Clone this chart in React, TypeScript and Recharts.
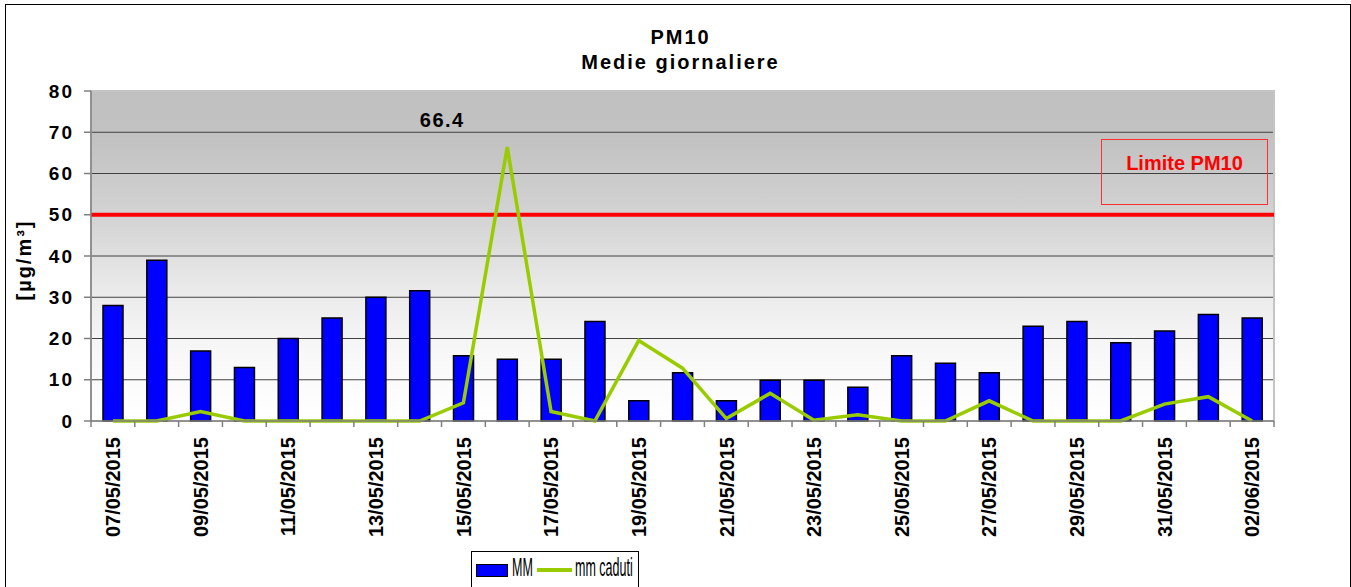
import React from 'react';
import {
  ComposedChart,
  Bar,
  Line,
  XAxis,
  YAxis,
  CartesianGrid,
  ReferenceLine,
  ReferenceArea,
  LabelList,
} from 'recharts';

const dates = [
  '07/05/2015', '08/05/2015', '09/05/2015', '10/05/2015', '11/05/2015', '12/05/2015',
  '13/05/2015', '14/05/2015', '15/05/2015', '16/05/2015', '17/05/2015', '18/05/2015',
  '19/05/2015', '20/05/2015', '21/05/2015', '22/05/2015', '23/05/2015', '24/05/2015',
  '25/05/2015', '26/05/2015', '27/05/2015', '28/05/2015', '29/05/2015', '30/05/2015',
  '31/05/2015', '01/06/2015', '02/06/2015',
];

// PM10 daily means [µg/m³]
const mm = [
  28, 39, 17, 13, 20, 25, 30, 31.6, 15.8, 15, 15, 24.1, 4.9, 11.7, 4.9, 9.9, 9.9, 8.2,
  15.8, 14, 11.7, 23, 24.1, 19, 21.8, 25.8, 25,
];

// rainfall [mm]
const mmCaduti = [
  0, 0, 2.3, 0, 0, 0, 0, 0, 4.4, 66.4, 2.3, 0, 19.5, 12.8, 0.6, 6.7, 0.2, 1.5,
  0, 0, 4.9, 0, 0, 0, 4.1, 5.9, 0,
];

const yTicks = [0, 10, 20, 30, 40, 50, 60, 70, 80];
const LIMIT = 50;

const W = 1351;
const H = 587;
const PLOT_LEFT = 91;
const PLOT_RIGHT = 1274;
const PLOT_W = PLOT_RIGHT - PLOT_LEFT;
const FONT = '"Liberation Sans", Arial, Helvetica, sans-serif';

const data = dates.map((d, i) => ({ date: d, mm: mm[i], caduti: mmCaduti[i] }));
const peak = Math.max(...mmCaduti);

const DateTick = (props: any) => {
  const { x, y, payload, index } = props;
  const band = PLOT_W / dates.length;
  return (
    <g>
      <line x1={x - band / 2} y1={y} x2={x - band / 2} y2={y + 6} stroke="#808080" strokeWidth={1.5} />
      {index === dates.length - 1 && (
        <line x1={x + band / 2} y1={y} x2={x + band / 2} y2={y + 6} stroke="#808080" strokeWidth={1.5} />
      )}
      {index % 2 === 0 && (
        <text
          x={x}
          y={y + 16}
          dy="0.36em"
          transform={`rotate(-90, ${x}, ${y + 16})`}
          textAnchor="end"
          fontFamily={FONT}
          fontWeight="bold"
          fontSize={20}
          fill="#000"
        >
          {payload.value}
        </text>
      )}
    </g>
  );
};

const PeakLabel = (props: any) => {
  const { x, y, value } = props;
  if (value !== peak) return null;
  return (
    <text
      x={x - 65}
      y={y - 20}
      textAnchor="middle"
      fontFamily={FONT}
      fontWeight="bold"
      fontSize={20}
      letterSpacing={1.5}
      fill="#000"
    >
      {value}
    </text>
  );
};

const App = () => {
  return (
    <div
      style={{
        position: 'absolute',
        left: 0,
        top: 0,
        width: W,
        height: H,
        background: '#fff',
        overflow: 'hidden',
        fontFamily: FONT,
      }}
    >
      <div
        style={{
          position: 'absolute',
          left: 5,
          top: 4,
          width: 1344,
          height: 620,
          border: '1.5px solid #000',
        }}
      />
      <div style={{ position: 'absolute', left: 0, top: 0 }}>
        <ComposedChart
          width={W}
          height={H}
          data={data}
          margin={{ top: 91, right: W - PLOT_RIGHT, bottom: 46, left: 21 }}
          barCategoryGap={0}
        >
          <defs>
            <linearGradient id="plotBg" x1="0" y1="0" x2="0" y2="1">
              <stop offset="0" stopColor="#c0c0c0" />
              <stop offset="0.15" stopColor="#c2c2c2" />
              <stop offset="0.4" stopColor="#d5d5d5" />
              <stop offset="0.6" stopColor="#eaeaea" />
              <stop offset="0.8" stopColor="#f8f8f8" />
              <stop offset="1" stopColor="#ffffff" />
            </linearGradient>
          </defs>
          <CartesianGrid
            vertical={false}
            horizontalValues={[10, 20, 30, 40, 50, 60, 70]}
            stroke="#404040"
            strokeWidth={1}
            fill="url(#plotBg)"
            fillOpacity={1}
          />
          <ReferenceArea y1={0} y2={80} fill="none" stroke="#c4c4c4" strokeWidth={2} />
          <XAxis
            dataKey="date"
            interval={0}
            height={120}
            tickSize={0}
            tickMargin={0}
            tickLine={false}
            tick={<DateTick />}
            axisLine={{ stroke: '#808080', strokeWidth: 1.5 }}
          />
          <YAxis
            width={70}
            domain={[0, 80]}
            ticks={yTicks}
            interval={0}
            tickSize={7}
            tickMargin={10}
            tickLine={{ stroke: '#808080', strokeWidth: 1.5 }}
            axisLine={{ stroke: '#808080', strokeWidth: 1.5 }}
            tick={{ fill: '#000', fontSize: 19, fontWeight: 'bold', fontFamily: FONT, letterSpacing: 2 }}
            label={{
              value: '[µg/m³]',
              angle: -90,
              position: 'insideLeft',
              offset: 3,
              dy: 4,
              style: { fill: '#000', fontSize: 20, fontWeight: 'bold', fontFamily: FONT, letterSpacing: 2, textAnchor: 'middle' },
            }}
          />
          <Bar
            dataKey="mm"
            name="MM"
            barSize={20}
            fill="#0000ff"
            stroke="#000"
            strokeWidth={1.5}
            isAnimationActive={false}
          />
          <ReferenceLine y={LIMIT} stroke="#ff0000" strokeWidth={4} />
          <Line
            dataKey="caduti"
            name="mm caduti"
            type="linear"
            stroke="#99cc00"
            strokeWidth={3.5}
            dot={false}
            activeDot={false}
            isAnimationActive={false}
          >
            <LabelList dataKey="caduti" content={<PeakLabel />} />
          </Line>
          <text
            x={(PLOT_LEFT + PLOT_RIGHT) / 2 - 2}
            y={44}
            textAnchor="middle"
            fontFamily={FONT}
            fontWeight="bold"
            fontSize={20}
            letterSpacing={2}
            fill="#000"
          >
            PM10
          </text>
          <text
            x={(PLOT_LEFT + PLOT_RIGHT) / 2 - 2}
            y={69}
            textAnchor="middle"
            fontFamily={FONT}
            fontWeight="bold"
            fontSize={20}
            letterSpacing={2}
            fill="#000"
          >
            Medie giornaliere
          </text>
        </ComposedChart>
      </div>

      {/* annotation box for the limit line */}
      <div
        style={{
          position: 'absolute',
          left: 1101,
          top: 139,
          width: 167,
          height: 66,
          border: '1px solid #ff3030',
          boxSizing: 'border-box',
          color: '#ff0000',
          fontWeight: 'bold',
          fontSize: 20,
          textAlign: 'center',
          paddingTop: 11,
          lineHeight: '24px',
        }}
      >
        Limite PM10
      </div>

      {/* legend */}
      <div
        style={{
          position: 'absolute',
          left: 471,
          top: 551,
          width: 168,
          height: 60,
          border: '1px solid #000',
          boxSizing: 'border-box',
          background: '#fff',
        }}
      />
      <div
        style={{
          position: 'absolute',
          left: 476,
          top: 564,
          width: 32,
          height: 13,
          background: '#0000ff',
          border: '1.5px solid #000',
          boxSizing: 'border-box',
        }}
      />
      <div
        style={{
          position: 'absolute',
          left: 512,
          top: 552,
          fontSize: 25,
          lineHeight: '30px',
          color: '#000',
          transform: 'scaleX(0.5)',
          transformOrigin: 'left top',
          whiteSpace: 'nowrap',
        }}
      >
        MM
      </div>
      <div
        style={{
          position: 'absolute',
          left: 537,
          top: 568,
          width: 35,
          height: 4,
          background: '#99cc00',
        }}
      />
      <div
        style={{
          position: 'absolute',
          left: 575,
          top: 552,
          fontSize: 25,
          lineHeight: '30px',
          color: '#000',
          transform: 'scaleX(0.5)',
          transformOrigin: 'left top',
          whiteSpace: 'nowrap',
        }}
      >
        mm caduti
      </div>
    </div>
  );
};

export default App;
